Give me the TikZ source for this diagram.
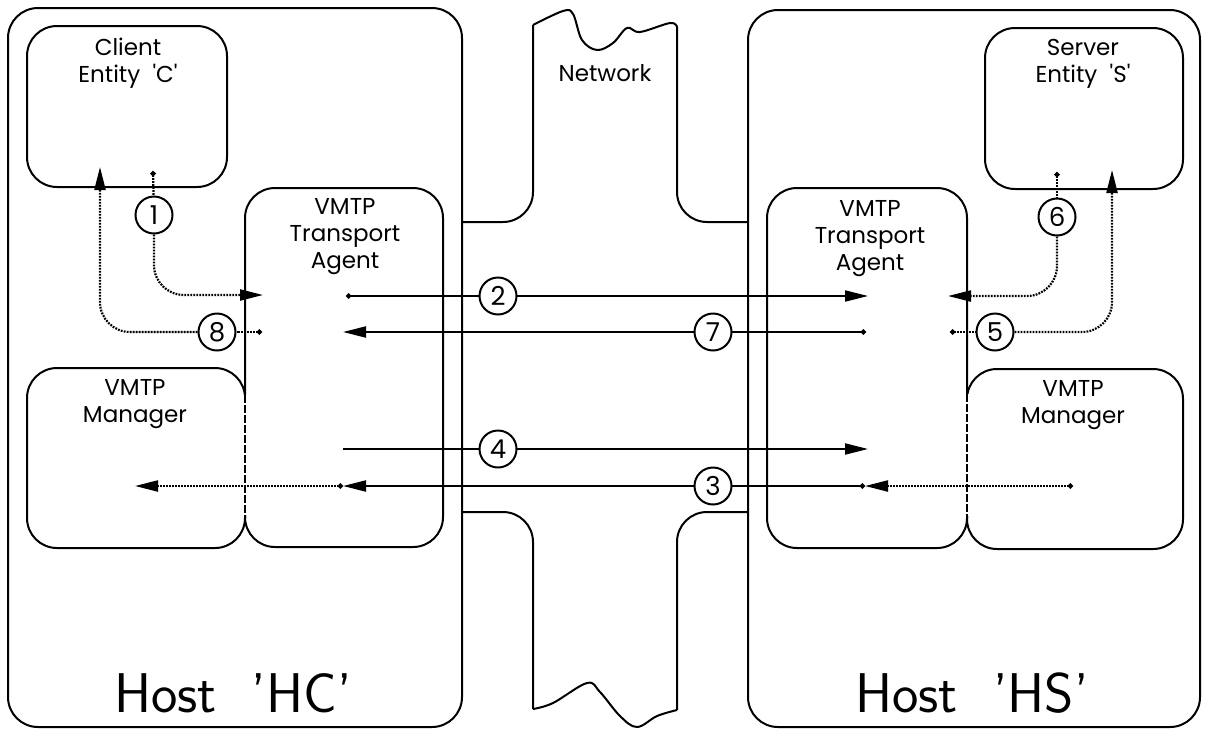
\documentclass[tikz,border=0pt]{standalone}
\usepackage{fontspec}
\setmainfont{Poppins}
\newfontfamily\hostfont{Latin Modern Sans}
\usetikzlibrary{arrows.meta}

\begin{document}
\begin{tikzpicture}[x=0.5pt, y=-0.5pt, line width=1pt,
  box/.style={draw, rounded corners=15pt, inner sep=0pt},
  lbl/.style={font=\fontsize{11.5}{13.5}\selectfont, align=center, inner sep=0pt, anchor=north},
  hostlbl/.style={font=\hostfont\fontsize{28}{30}\selectfont, inner sep=0pt, anchor=base},
  num/.style={draw, circle, fill=white, minimum size=18.5pt, inner sep=0pt, font=\fontsize{13}{13}\selectfont},
  solidline/.style={line width=1pt},
  dotline/.style={line width=1.1pt, dash pattern=on 0.9pt off 0.6pt},
  ptr/.style={-{Triangle[length=11.5pt,width=5.5pt]}},
  dotptr/.style={{Circle[length=2.6pt]}-{Triangle[length=11.5pt,width=5.5pt]}},
  dotonly/.style={{Circle[length=2.6pt]}-},
]
\useasboundingbox (0,0) rectangle (1208,729);

% hosts
\node[box, minimum width=227pt, minimum height=359.5pt] (hostC) at (235,367.5) {};
\node[box, minimum width=226pt, minimum height=358.5pt] (hostS) at (974,368.5) {};

% network cloud
\draw[rounded corners=15pt] (462,222) -- (533,222) -- (533,25);
\draw plot[smooth, tension=0.6] coordinates {(533,25) (563,11) (573,14) (582,40) (597,50) (613,43) (627,28) (640,32) (670,23) (677,27)};
\draw[rounded corners=15pt] (677,27) -- (677,222) -- (748,222);
\draw[rounded corners=15pt] (462,512) -- (533,512) -- (533,709);
\draw plot[smooth, tension=0.6] coordinates {(533,709) (553,703) (587,683) (600,692) (620,716) (637,727) (657,716) (677,710)};
\draw[rounded corners=15pt] (677,710) -- (677,512) -- (748,512);
\node[lbl] (tNet) at (605,63) {Network};

% client host contents
\node[box, minimum width=100pt, minimum height=80.5pt] (client) at (127,106.5) {};
\node[box, minimum width=99pt, minimum height=179.5pt] (taC) at (344,367.5) {};
\node[box, minimum width=109pt, minimum height=90pt] (mgrC) at (136,458) {};
\draw[white, line width=1.6pt] (245,395) -- (245,515);
\draw[dash pattern=on 4pt off 1pt] (245,395) -- (245,515);

% server host contents
\node[box, minimum width=99pt, minimum height=80.5pt] (server) at (1084,108.5) {};
\node[box, minimum width=100pt, minimum height=180pt] (taS) at (867,368) {};
\node[box, minimum width=108pt, minimum height=90pt] (mgrS) at (1075,459) {};
\draw[white, line width=1.6pt] (967,394) -- (967,516);
\draw[dash pattern=on 4pt off 1pt] (967,394) -- (967,516);

% labels
\node[lbl] (tClient) at (128,37) {Client\\Entity\ \ \textquotesingle C\textquotesingle};
\node[lbl] (tServer) at (1083,38) {Server\\Entity\ \ \textquotesingle S\textquotesingle};
\node[lbl] (tTaC) at (345,197) {VMTP\\Transport\\Agent};
\node[lbl] (tTaS) at (870,199) {VMTP\\Transport\\Agent};
\node[lbl] (tMgrC) at (135,378) {VMTP\\Manager};
\node[lbl] (tMgrS) at (1073,379) {VMTP\\Manager};
\node[hostlbl] (tHostC) at (233,712) {Host\ \ ’HC’};
\node[hostlbl] (tHostS) at (972,712) {Host\ \ ’HS’};

% connector end points
\coordinate (p1s) at (153,171);
\coordinate (p1e) at (263,295);
\coordinate (p8s) at (262,332);
\coordinate (p8e) at (100,167);
\coordinate (p2s) at (346,296);
\coordinate (p2e) at (868,296);
\coordinate (p7s) at (866,332);
\coordinate (p7e) at (343,332);
\coordinate (p4s) at (343,449);
\coordinate (p4e) at (868,449);
\coordinate (p3a) at (1073,486);
\coordinate (p3b) at (865,486);
\coordinate (p3c) at (343,486);
\coordinate (p3d) at (135,486);
\coordinate (p6s) at (1057,172);
\coordinate (p6e) at (948,296);
\coordinate (p5s) at (950,332);
\coordinate (p5e) at (1112,170);

% long solid connectors
\draw[solidline, dotptr] (p2s) -- (p2e);
\draw[solidline, dotptr] (p7s) -- (p7e);
\draw[solidline, ptr] (p4s) -- (p4e);
\draw[dotline, dotptr] (p3a) -- (p3b);
\draw[solidline, dotptr] (p3b) -- (p3c);
\draw[dotline, dotptr] (p3c) -- (p3d);

% numbered markers
\node[num] (n1) at (154,215) {1};
\node[num] (n8) at (217,332) {8};
\node[num] (n2) at (498,296) {2};
\node[num] (n7) at (713,332) {7};
\node[num] (n4) at (498,449) {4};
\node[num] (n3) at (713,486) {3};
\node[num] (n6) at (1057,217) {6};
\node[num] (n5) at (995,332) {5};

% local dotted connectors
\draw[dotline, dotonly] (p1s) -- (n1);
\draw[dotline, ptr, rounded corners=15pt] (n1) |- (p1e);
\draw[dotline, dotonly] (p8s) -- (n8);
\draw[dotline, ptr, rounded corners=15pt] (n8) -| (p8e);
\draw[dotline, dotonly] (p6s) -- (n6);
\draw[dotline, ptr, rounded corners=15pt] (n6) |- (p6e);
\draw[dotline, dotonly] (p5s) -- (n5);
\draw[dotline, ptr, rounded corners=15pt] (n5) -| (p5e);
\end{tikzpicture}
\end{document}
